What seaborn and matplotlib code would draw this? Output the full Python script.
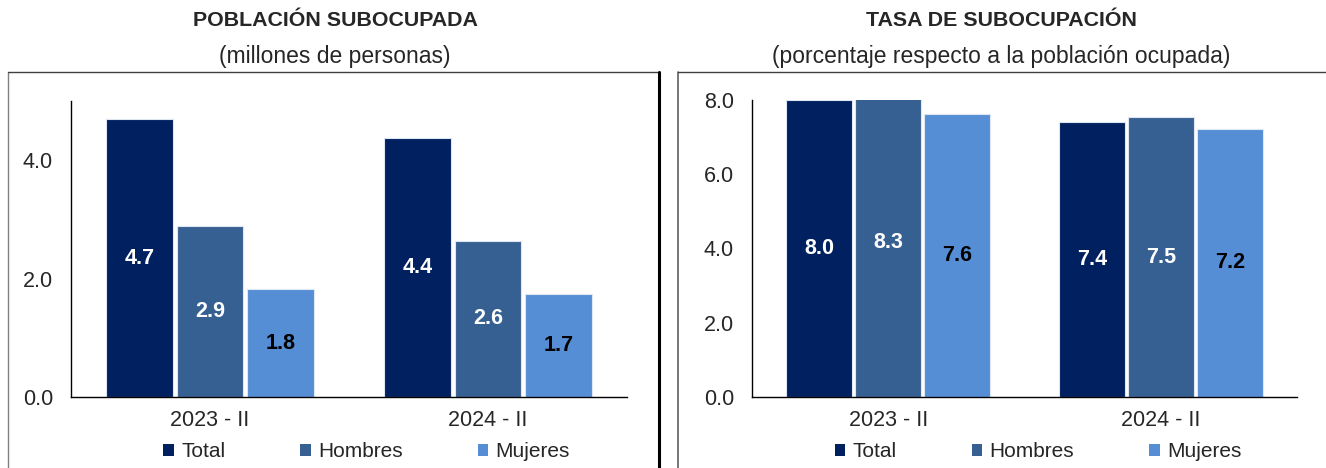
import numpy as np
import pandas as pd
import matplotlib
matplotlib.use("Agg")
import matplotlib.pyplot as plt
from matplotlib.patches import Patch
from matplotlib.lines import Line2D
import seaborn as sns

# data
periodos = ["2023 - II", "2024 - II"]
sexos = ["Total", "Hombres", "Mujeres"]
poblacion = [[4.69, 2.89, 1.82], [4.37, 2.64, 1.74]]   # millones de personas
tasa = [[8.0, 8.3, 7.62], [7.4, 7.54, 7.22]]          # % de la población ocupada
colores = ["#002060", "#376092", "#558ED5"]
color_etiqueta = ["white", "white", "black"]

sns.set_style("white")
plt.rcParams["font.family"] = ["Liberation Sans", "DejaVu Sans"]


def a_tabla(valores):
    filas = []
    for i, p in enumerate(periodos):
        for j, s in enumerate(sexos):
            filas.append({"periodo": p, "sexo": s, "valor": valores[i][j]})
    return pd.DataFrame(filas)


fig = plt.figure(figsize=(13.26, 4.68), dpi=100)
ax1 = fig.add_axes([71 / 1326, 71 / 468, 556 / 1326, 296 / 468])
ax2 = fig.add_axes([752 / 1326, 71 / 468, 545 / 1326, 297 / 468])

paneles = [
    (ax1, poblacion, 5.0, [0, 2, 4], "POBLACIÓN SUBOCUPADA", "(millones de personas)", 335, 0.5315),
    (ax2, tasa, 8.0, [0, 2, 4, 6, 8], "TASA DE SUBOCUPACIÓN",
     "(porcentaje respecto a la población ocupada)", 1001, 0.525),
]

for ax, valores, ymax, yticks, titulo, subtitulo, xc, xleg in paneles:
    df = a_tabla(valores)
    sns.barplot(data=df, x="periodo", y="valor", hue="sexo", order=periodos,
                hue_order=sexos, palette=colores, width=0.76, gap=0.05,
                saturation=1, edgecolor="#dde6f2", linewidth=0.8,
                legend=False, ax=ax)
    # value labels at the middle of each bar
    for j, cont in enumerate(ax.containers):
        for bar, v in zip(cont, df[df["sexo"] == sexos[j]]["valor"]):
            ax.text(bar.get_x() + bar.get_width() / 2, v / 2, f"{v:.1f}",
                    ha="center", va="center", fontsize=15.5, fontweight="bold",
                    color=color_etiqueta[j])
    ax.set_ylim(0, ymax)
    ax.set_xlim(-0.5, 1.5)
    ax.set_yticks(yticks)
    ax.set_yticklabels([f"{t:.1f}" for t in yticks], fontsize=15.5)
    ax.set_xticks([-0.5, 0.5, 1.5])
    ax.set_xticklabels([])
    ax.set_xticks([0, 1], minor=True)
    ax.set_xticklabels(periodos, minor=True, fontsize=15.5)
    ax.tick_params(axis="x", which="major", direction="out", length=8, width=1, color="black")
    ax.tick_params(axis="x", which="minor", length=0, pad=9)
    ax.tick_params(axis="y", direction="out", length=6, width=1, color="black", pad=7)
    ax.set_xlabel("")
    ax.set_ylabel("")
    sns.despine(ax=ax)
    for lado in ["left", "bottom"]:
        ax.spines[lado].set_color("black")
        ax.spines[lado].set_linewidth(1)

    fig.text(xc / 1326, 1 - 20 / 468, titulo, ha="center", va="center",
             fontsize=15.4, fontweight="bold")
    fig.text(xc / 1326, 1 - 56 / 468, subtitulo, ha="center", va="center", fontsize=16.5)

    handles = [Patch(facecolor=c, edgecolor="none") for c in colores]
    ax.legend(handles, sexos, loc="center", bbox_to_anchor=(xleg, -0.185),
              ncol=3, frameon=False, fontsize=15, handlelength=0.5,
              handleheight=0.5, handletextpad=0.35, columnspacing=3.6)

# panel frames
def linea(x0, y0, x1, y1, color, lw):
    fig.add_artist(Line2D([x0 / 1326, x1 / 1326], [1 - y0 / 468, 1 - y1 / 468],
                          color=color, linewidth=lw, transform=fig.transFigure))

linea(8, 72, 8, 468, "#808080", 1)
linea(8, 72, 659, 72, "#404040", 1)
linea(659, 72, 659, 468, "black", 2.2)
linea(678, 72, 678, 468, "#606060", 1.2)
linea(678, 72, 1326, 72, "#404040", 1)

fig.savefig("out.png", dpi=100)
